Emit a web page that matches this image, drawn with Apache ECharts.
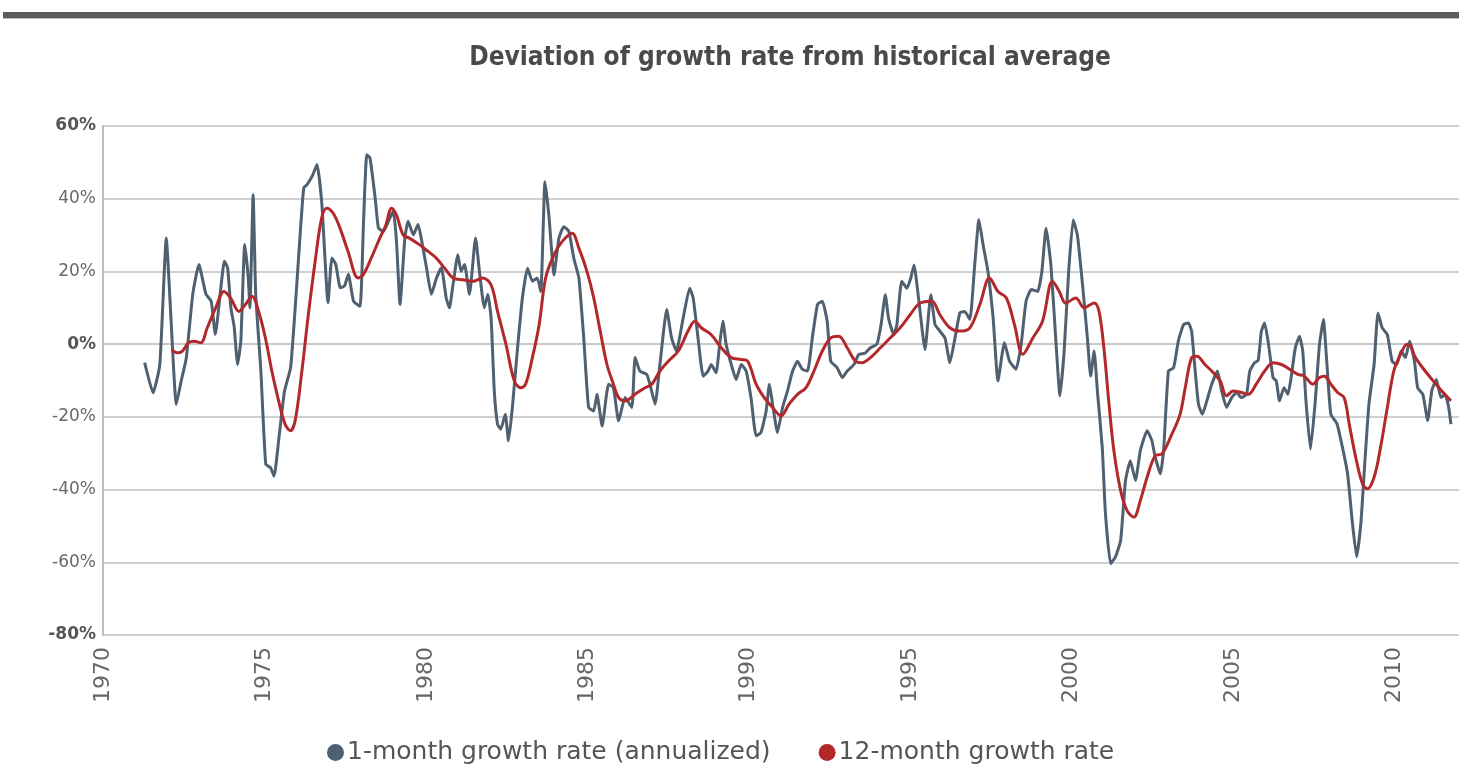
<!DOCTYPE html>
<html>
<head>
<meta charset="utf-8">
<script src="https://cdn.jsdelivr.net/npm/echarts@6/dist/echarts.min.js"></script>
<style>
html,body{margin:0;padding:0;background:#fff;overflow:hidden;}
#chart{width:1459px;height:765px;}
</style>
</head>
<body>
<div id="chart"></div>
<script>
// ---- data (decimal year, % deviation) ----
const seriesNames = ['1-month growth rate (annualized)', '12-month growth rate'];
const yTicks = [-80, -60, -40, -20, 0, 20, 40, 60];
const xTicks = [1970, 1975, 1980, 1985, 1990, 1995, 2000, 2005, 2010];

const oneMonth = [
  [1971.29,-5.1],[1971.55,-13.4],[1971.76,-5.6],[1971.96,29.2],[1972.11,6.3],[1972.27,-16.6],
  [1972.42,-10.2],[1972.58,-3.8],[1972.78,13.7],[1972.97,21.9],[1973.19,13.7],[1973.35,11.8],
  [1973.48,2.7],[1973.65,15.5],[1973.76,22.8],[1973.86,21.0],[1973.96,10.0],[1974.06,5.0],
  [1974.17,-5.6],[1974.27,1.0],[1974.39,27.4],[1974.50,18.2],[1974.55,10.0],[1974.65,41.1],
  [1974.73,13.7],[1974.89,-7.4],[1975.04,-33.0],[1975.19,-34.0],[1975.30,-36.3],[1975.45,-25.7],
  [1975.62,-13.0],[1975.81,-6.5],[1975.96,10.9],[1976.12,32.0],[1976.22,43.0],[1976.32,43.9],
  [1976.48,46.2],[1976.63,49.4],[1976.78,38.4],[1976.97,11.4],[1977.09,23.7],[1977.21,21.9],
  [1977.35,15.5],[1977.48,16.0],[1977.60,19.2],[1977.76,11.8],[1977.96,10.4],[1978.07,33.8],
  [1978.17,52.1],[1978.27,51.2],[1978.43,40.2],[1978.53,32.0],[1978.68,31.0],[1978.84,33.8],
  [1978.99,36.6],[1979.09,28.3],[1979.20,10.9],[1979.35,29.2],[1979.45,33.8],[1979.61,30.1],
  [1979.76,32.9],[1979.88,28.0],[1980.02,21.0],[1980.17,13.7],[1980.33,18.2],[1980.48,21.0],
  [1980.63,12.7],[1980.73,10.0],[1980.84,16.3],[1980.99,24.6],[1981.09,20.0],[1981.20,21.9],
  [1981.35,13.7],[1981.54,29.2],[1981.66,20.0],[1981.81,10.0],[1981.92,13.7],[1982.02,7.2],
  [1982.12,-12.9],[1982.22,-22.0],[1982.32,-23.4],[1982.46,-19.3],[1982.56,-26.6],[1982.68,-17.4],
  [1982.84,-1.0],[1982.99,12.7],[1983.15,20.9],[1983.30,17.3],[1983.45,18.2],[1983.56,14.5],
  [1983.69,44.7],[1983.81,35.5],[1983.97,19.1],[1984.12,29.1],[1984.27,32.3],[1984.43,31.0],
  [1984.58,23.7],[1984.74,18.2],[1984.89,1.7],[1985.04,-17.4],[1985.20,-18.4],[1985.30,-13.8],
  [1985.46,-22.5],[1985.66,-11.0],[1985.81,-12.0],[1985.97,-21.1],[1986.17,-14.7],[1986.38,-17.4],
  [1986.48,-3.7],[1986.63,-7.4],[1986.84,-8.3],[1986.94,-11.0],[1987.10,-16.5],[1987.25,-5.6],
  [1987.46,9.5],[1987.61,1.7],[1987.76,-1.9],[1987.97,7.2],[1988.17,15.4],[1988.28,12.7],
  [1988.43,1.7],[1988.59,-8.8],[1988.74,-7.4],[1988.84,-5.6],[1988.99,-7.9],[1989.10,0.0],
  [1989.20,6.3],[1989.30,0.0],[1989.46,-5.6],[1989.61,-9.7],[1989.77,-5.6],[1989.92,-7.4],
  [1990.07,-14.7],[1990.23,-25.2],[1990.38,-24.3],[1990.54,-18.4],[1990.64,-11.0],[1990.74,-16.5],
  [1990.89,-24.3],[1991.05,-17.4],[1991.20,-12.9],[1991.36,-7.4],[1991.51,-4.7],[1991.66,-6.9],
  [1991.82,-7.4],[1991.97,1.7],[1992.13,10.9],[1992.28,11.8],[1992.43,6.3],[1992.54,-4.7],
  [1992.74,-6.5],[1992.90,-9.2],[1993.05,-7.4],[1993.26,-5.6],[1993.41,-2.8],[1993.60,-2.5],
  [1993.77,-1.0],[1993.97,0.0],[1994.10,5.4],[1994.23,13.6],[1994.33,7.2],[1994.49,2.6],
  [1994.59,5.4],[1994.74,17.3],[1994.90,15.4],[1995.02,18.2],[1995.12,21.8],[1995.26,12.7],
  [1995.46,-1.5],[1995.64,13.6],[1995.77,5.4],[1995.92,3.6],[1996.08,1.7],[1996.23,-5.1],
  [1996.39,1.7],[1996.54,8.6],[1996.69,9.0],[1996.85,6.8],[1997.00,21.8],[1997.13,34.2],
  [1997.26,27.3],[1997.41,20.0],[1997.57,7.2],[1997.72,-10.1],[1997.92,0.4],[1998.08,-4.7],
  [1998.28,-6.9],[1998.44,0.0],[1998.59,11.8],[1998.75,15.0],[1998.95,14.5],[1999.08,20.0],
  [1999.21,31.9],[1999.36,21.8],[1999.52,0.0],[1999.64,-14.2],[1999.77,-1.9],[1999.91,20.0],
  [2000.05,34.2],[2000.18,30.0],[2000.34,16.3],[2000.49,1.7],[2000.59,-8.8],[2000.70,-1.9],
  [2000.80,-12.9],[2000.95,-28.4],[2001.05,-46.7],[2001.21,-60.4],[2001.36,-58.5],[2001.52,-54.0],
  [2001.67,-37.5],[2001.82,-32.1],[2001.98,-37.5],[2002.13,-29.3],[2002.34,-23.8],[2002.49,-26.6],
  [2002.59,-31.1],[2002.75,-35.7],[2002.85,-29.3],[2003.00,-7.4],[2003.16,-6.5],[2003.31,1.0],
  [2003.47,5.4],[2003.62,5.8],[2003.72,3.5],[2003.81,-5.6],[2003.93,-16.5],[2004.05,-19.3],
  [2004.19,-15.6],[2004.34,-11.0],[2004.52,-7.4],[2004.65,-12.9],[2004.80,-17.4],[2004.96,-14.7],
  [2005.11,-13.3],[2005.26,-14.7],[2005.42,-13.8],[2005.52,-7.4],[2005.67,-5.1],[2005.78,-4.5],
  [2005.88,3.6],[2005.98,5.8],[2006.10,0.0],[2006.24,-9.2],[2006.34,-10.1],[2006.44,-15.6],
  [2006.58,-12.0],[2006.70,-13.8],[2006.80,-9.2],[2006.93,-1.0],[2007.06,2.2],[2007.16,-1.9],
  [2007.26,-15.6],[2007.40,-28.9],[2007.54,-16.5],[2007.68,0.0],[2007.80,6.8],[2007.91,-5.6],
  [2008.03,-19.3],[2008.22,-21.9],[2008.39,-28.4],[2008.55,-35.7],[2008.70,-49.3],[2008.83,-58.5],
  [2008.96,-49.3],[2009.08,-33.0],[2009.21,-16.5],[2009.37,-5.6],[2009.49,8.6],[2009.62,4.5],
  [2009.78,2.6],[2009.93,-4.7],[2010.07,-5.6],[2010.21,-1.9],[2010.34,-3.7],[2010.47,0.8],
  [2010.62,-4.7],[2010.72,-12.0],[2010.88,-13.8],[2011.03,-21.0],[2011.16,-12.7],[2011.30,-9.7],
  [2011.44,-14.7],[2011.57,-13.8],[2011.68,-17.4],[2011.75,-22.0]
];

const twelveMonth = [
  [1972.13,-1.5],[1972.31,-2.4],[1972.46,-1.9],[1972.65,0.4],[1972.82,0.8],[1973.03,0.4],
  [1973.23,4.5],[1973.49,10.0],[1973.75,14.5],[1973.95,12.7],[1974.21,9.0],[1974.41,10.9],
  [1974.62,13.1],[1974.82,9.0],[1975.03,1.7],[1975.23,-7.4],[1975.44,-15.6],[1975.64,-22.0],
  [1975.80,-23.8],[1975.95,-21.1],[1976.16,-7.4],[1976.36,8.1],[1976.57,22.7],[1976.77,34.6],
  [1976.93,37.4],[1977.13,36.0],[1977.34,31.9],[1977.59,25.5],[1977.90,18.2],[1978.06,19.1],
  [1978.31,23.7],[1978.57,29.1],[1978.75,32.5],[1978.94,37.4],[1979.09,35.5],[1979.30,30.0],
  [1979.50,29.1],[1979.81,27.3],[1980.07,25.5],[1980.32,23.7],[1980.58,20.9],[1980.84,18.2],
  [1981.14,17.7],[1981.45,17.3],[1981.76,18.2],[1982.02,16.3],[1982.22,9.0],[1982.48,0.0],
  [1982.74,-10.1],[1982.94,-12.0],[1983.09,-11.0],[1983.30,-3.7],[1983.51,5.4],[1983.71,18.2],
  [1983.97,24.6],[1984.22,28.2],[1984.53,30.5],[1984.74,26.4],[1984.99,20.0],[1985.20,12.7],
  [1985.40,3.6],[1985.61,-5.6],[1985.81,-11.0],[1985.97,-14.7],[1986.17,-15.6],[1986.48,-13.8],
  [1986.75,-12.2],[1987.00,-11.0],[1987.25,-7.4],[1987.51,-4.7],[1987.82,-1.9],[1988.12,3.6],
  [1988.33,6.3],[1988.53,4.5],[1988.84,2.6],[1989.15,-1.0],[1989.46,-3.7],[1989.77,-4.2],
  [1989.97,-4.7],[1990.23,-11.0],[1990.48,-14.7],[1990.74,-17.4],[1991.00,-19.7],[1991.25,-16.5],
  [1991.51,-13.8],[1991.77,-12.0],[1992.02,-7.4],[1992.28,-1.9],[1992.54,1.7],[1992.79,2.2],
  [1993.05,-1.0],[1993.31,-4.7],[1993.51,-5.1],[1993.77,-3.7],[1994.08,-1.0],[1994.38,1.7],
  [1994.69,4.5],[1995.00,8.1],[1995.31,11.3],[1995.67,11.8],[1995.92,8.1],[1996.23,4.5],
  [1996.54,3.6],[1996.85,4.5],[1997.16,10.9],[1997.46,18.2],[1997.72,14.5],[1997.98,12.7],
  [1998.23,5.4],[1998.49,-2.8],[1998.80,1.7],[1999.10,6.3],[1999.41,17.3],[1999.62,14.5],
  [1999.82,11.3],[2000.13,12.7],[2000.39,10.0],[2000.70,11.3],[2000.85,9.0],[2001.00,-1.0],
  [2001.16,-16.5],[2001.31,-29.3],[2001.52,-40.3],[2001.72,-45.8],[2001.93,-47.6],[2002.13,-43.0],
  [2002.34,-36.6],[2002.59,-30.7],[2002.80,-30.2],[2003.11,-24.7],[2003.36,-19.3],[2003.52,-12.0],
  [2003.72,-3.7],[2003.88,-3.3],[2004.13,-5.6],[2004.34,-7.4],[2004.60,-10.1],[2004.80,-14.2],
  [2005.01,-12.9],[2005.26,-13.3],[2005.47,-13.8],[2005.72,-11.0],[2005.98,-7.4],[2006.24,-5.1],
  [2006.50,-5.6],[2006.75,-6.9],[2007.01,-8.3],[2007.21,-8.8],[2007.47,-11.0],[2007.68,-9.2],
  [2007.83,-8.8],[2008.03,-11.0],[2008.24,-13.3],[2008.44,-14.7],[2008.60,-22.0],[2008.80,-31.1],
  [2009.01,-38.4],[2009.16,-39.8],[2009.37,-36.6],[2009.57,-28.4],[2009.78,-17.4],[2009.98,-7.4],
  [2010.19,-2.8],[2010.39,0.0],[2010.50,-0.5],[2010.65,-3.7],[2010.91,-6.9],[2011.16,-9.7],
  [2011.42,-12.4],[2011.75,-15.6]
];

const grayColor = '#4f6070';
const redColor = '#b3282a';
const boldTicks = [60, 0, -80];
const gridColors = yTicks.map(v => v === 0 ? '#b3b3b3' : '#d0d0d0');

const chart = echarts.init(document.getElementById('chart'), null, {renderer: 'canvas'});
chart.setOption({
  backgroundColor: '#ffffff',
  animation: false,
  graphic: [
    {type: 'rect', shape: {x: 3, y: 12, width: 1456, height: 6}, style: {fill: '#5c5c5c'}, z: 10},
    {type: 'rect', shape: {x: 3, y: 18, width: 1456, height: 1}, style: {fill: '#bdbdbd'}, z: 10}
  ],
  title: {
    text: 'Deviation of growth rate from historical average',
    left: 785,
    textAlign: 'center',
    top: 40,
    textStyle: {
      fontFamily: '"DejaVu Sans Condensed", "Liberation Sans Narrow", "DejaVu Sans", sans-serif',
      fontWeight: 'bold',
      fontSize: 26,
      color: '#4a4a4a'
    }
  },
  legend: {
    data: seriesNames,
    left: 322,
    top: 735,
    icon: 'circle',
    itemWidth: 17,
    itemHeight: 17,
    itemGap: 48,
    textStyle: {fontFamily: '"DejaVu Sans", sans-serif', fontSize: 25, color: '#555', padding: [0, 0, 0, -2]}
  },
  grid: {left: 103, right: -8, top: 126, bottom: 130, containLabel: false},
  xAxis: {
    type: 'value',
    min: 1970,
    max: 2012,
    interval: 5,
    axisLine: {show: true, lineStyle: {color: '#c8c8c8', width: 2}},
    axisTick: {show: false},
    splitLine: {show: false},
    axisLabel: {
      rotate: 90,
      margin: 12,
      showMaxLabel: false,
      fontFamily: '"DejaVu Sans", sans-serif',
      fontSize: 22,
      color: '#666',
      formatter: v => String(v)
    }
  },
  yAxis: {
    type: 'value',
    min: -80,
    max: 60,
    interval: 20,
    axisLine: {show: true, lineStyle: {color: '#bdbdbd', width: 2}},
    axisTick: {show: false},
    splitLine: {show: true, lineStyle: {color: gridColors, width: 2}},
    axisLabel: {
      margin: 7,
      fontFamily: '"DejaVu Sans", sans-serif',
      fontSize: 17,
      color: '#6a6a6a',
      formatter: v => boldTicks.includes(v) ? '{b|' + v + '%}' : v + '%',
      rich: {b: {fontFamily: '"DejaVu Sans", sans-serif', fontSize: 17, fontWeight: 'bold', color: '#555'}}
    }
  },
  series: [
    {
      name: seriesNames[0],
      type: 'line',
      data: oneMonth,
      showSymbol: false,
      symbol: 'circle',
      color: grayColor,
      lineStyle: {color: grayColor, width: 3},
      smooth: 0.15,
      z: 2
    },
    {
      name: seriesNames[1],
      type: 'line',
      data: twelveMonth,
      showSymbol: false,
      symbol: 'circle',
      color: redColor,
      lineStyle: {color: redColor, width: 3},
      smooth: 0.35,
      z: 3
    }
  ]
});
</script>
</body>
</html>
